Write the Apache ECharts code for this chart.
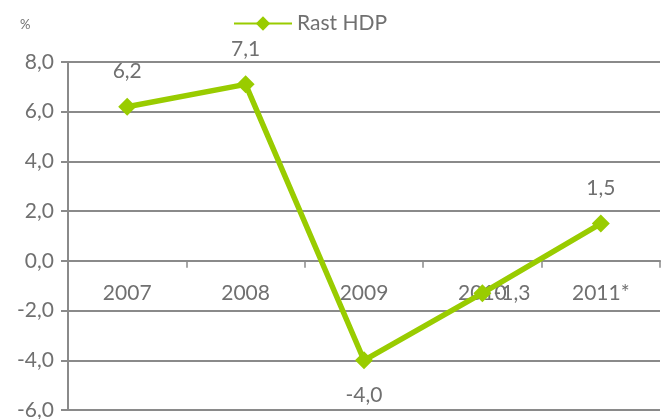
<!DOCTYPE html>
<html><head><meta charset="utf-8">
<script src="https://cdn.jsdelivr.net/npm/echarts@6/dist/echarts.min.js"></script>
<style>html,body{margin:0;padding:0;background:#fff}#c{width:663px;height:419px}</style>
</head><body><div id="c"></div>
<script>
const categories = ['2007', '2008', '2009', '2010', '2011*'];
const values = [6.2, 7.1, -4.0, -1.3, 1.5];
const labelPositions = ['top', 'top', 'bottom', 'right', 'top'];
const seriesName = 'Rast HDP';
const unit = '%';

const fmt = v => v.toFixed(1).replace('.', ',');
const gray = '#8a8a8a';
const txt = '#707070';
const green = '#99cc00';
const font = 'Lato, "Open Sans", sans-serif';
const fs = 21;

const chart = echarts.init(document.getElementById('c'));
chart.setOption({
  animation: false,
  textStyle: { fontFamily: font },
  graphic: [{ type: 'text', left: 20, top: 18, style: { text: unit, fill: txt, fontSize: 13, fontFamily: font } }],
  legend: {
    data: [seriesName], left: 228, top: 8, itemWidth: 58, itemHeight: 18, itemGap: 4,
    textStyle: { color: txt, fontSize: fs, fontFamily: font }
  },
  grid: { left: 68, right: 3, top: 62, bottom: 9, containLabel: false, outerBoundsMode: 'none' },
  xAxis: {
    type: 'category', data: categories, boundaryGap: true, position: 'bottom', offset: 0,
    axisLine: { onZero: false, lineStyle: { color: gray, width: 2 } },
    axisTick: { show: true, length: 7, lineStyle: { color: gray, width: 1.5 } },
    axisLabel: { color: txt, fontSize: fs, margin: 22, fontFamily: font }
  },
  yAxis: {
    type: 'value', min: -6, max: 8, interval: 2,
    axisLine: { show: true, lineStyle: { color: gray, width: 2 } },
    axisTick: { show: true, length: 7, lineStyle: { color: gray, width: 2 } },
    axisLabel: { color: txt, fontSize: fs, margin: 14, formatter: fmt, fontFamily: font },
    splitLine: { show: true, lineStyle: { color: gray, width: 2 } }
  },
  series: [{
    name: seriesName, type: 'line',
    data: values.map((v, i) => ({
      value: v,
      label: {
        position: labelPositions[i],
        distance: labelPositions[i] === 'top' ? 16 : (labelPositions[i] === 'bottom' ? 15 : 2)
      }
    })),
    symbol: 'diamond', symbolSize: 18,
    lineStyle: { color: green, width: 5.5 },
    itemStyle: { color: green },
    label: { show: true, color: txt, fontSize: fs, fontFamily: font, formatter: p => fmt(p.value) }
  }]
});
// place the category axis on the zero line using the library's own scale
const yZero = chart.convertToPixel({ yAxisIndex: 0 }, 0);
const yMin = chart.convertToPixel({ yAxisIndex: 0 }, -6);
chart.setOption({ xAxis: { offset: -(yMin - yZero) } });
</script></body></html>
